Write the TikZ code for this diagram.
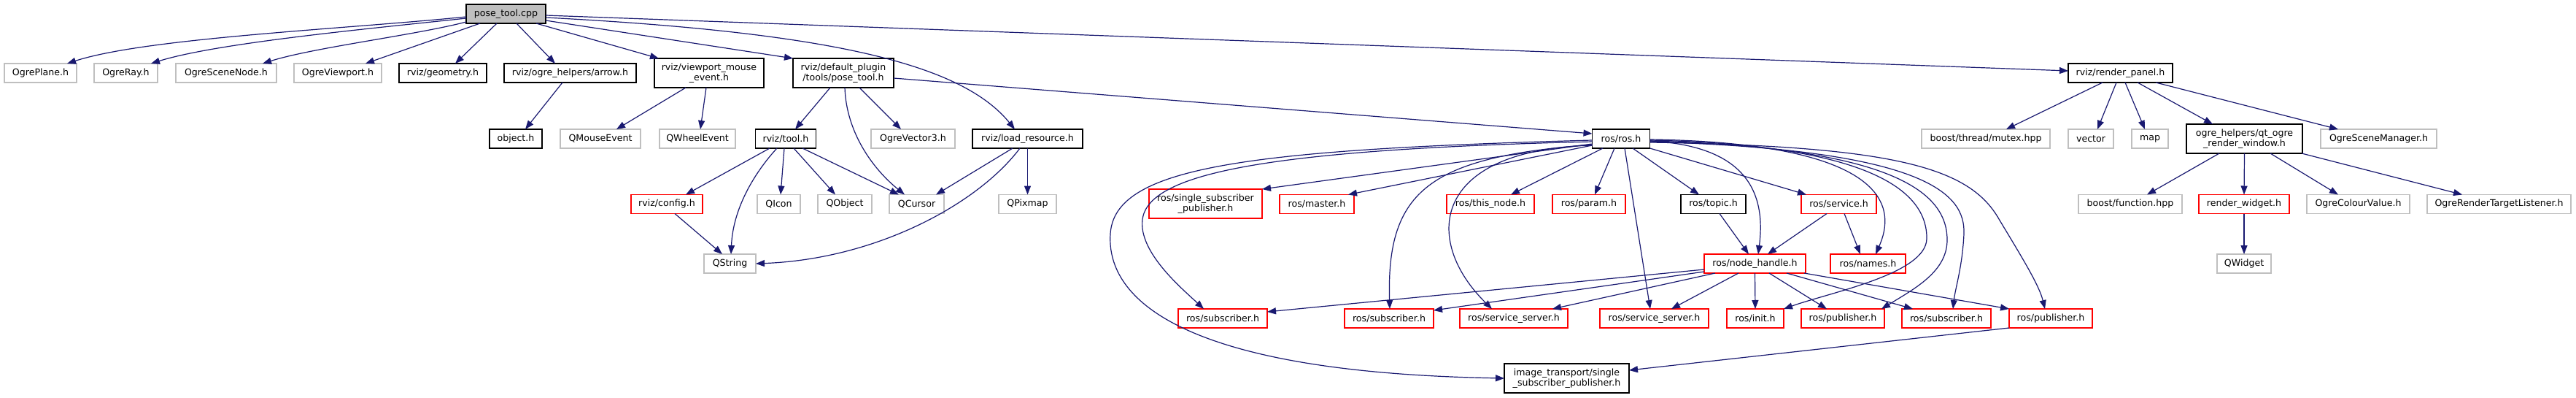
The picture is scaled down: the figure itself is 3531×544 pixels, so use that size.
\documentclass[tikz,border=0pt]{standalone}
\usepackage{fontspec}
\setmainfont{DejaVu Sans}
\usetikzlibrary{arrows.meta}
\definecolor{edgecol}{HTML}{191970}
\definecolor{grayb}{HTML}{BFBFBF}
\definecolor{redb}{HTML}{FF0000}
\definecolor{mainfill}{HTML}{BFBFBF}
\begin{document}
\begin{tikzpicture}[x=1pt,y=-1pt,
  nb/.style={draw, rectangle, inner sep=0pt, outer sep=0pt, minimum height=26pt,
    line width=1.3pt, font=\fontsize{12.6}{14}\selectfont, align=center, fill=white},
  gb/.style={nb, draw=grayb},
  bb/.style={nb, draw=black},
  rb/.style={nb, draw=redb},
  tl/.style={minimum height=40pt},
  edge/.style={draw=edgecol, line width=1.2pt, -{Triangle[length=12pt,width=9pt]}}]
\useasboundingbox (0,0) rectangle (3531,544);

% nodes
\node[bb, fill=mainfill, minimum width=109pt] (pc) at (693.5,19) {pose\_tool.cpp};

\node[gb, minimum width=99pt] (n1) at (55.5,100) {OgrePlane.h};
\node[gb, minimum width=87pt] (n2) at (172.5,100) {OgreRay.h};
\node[gb, minimum width=138pt] (n3) at (310,100) {OgreSceneNode.h};
\node[gb, minimum width=120pt] (n4) at (463,100) {OgreViewport.h};
\node[bb, minimum width=120pt] (geo) at (607,100) {rviz/geometry.h};
\node[bb, minimum width=181pt] (ndarrow) at (781.5,100) {rviz/ogre\_helpers/arrow.h};
\node[bb, tl, minimum width=150pt] (vme) at (972,100) {rviz/viewport\_mouse\\\_event.h};
\node[bb, tl, minimum width=138pt] (pth) at (1156,100) {rviz/default\_plugin\\/tools/pose\_tool.h};
\node[bb, minimum width=143pt] (rp) at (2906.5,100) {rviz/render\_panel.h};

\node[bb, minimum width=72pt] (obj) at (707,190) {object.h};
\node[gb, minimum width=110pt] (qme) at (823,190) {QMouseEvent};
\node[gb, minimum width=104pt] (qwe) at (956,190) {QWheelEvent};
\node[bb, minimum width=83pt] (tool) at (1077,190) {rviz/tool.h};
\node[gb, minimum width=115pt] (ov3) at (1251.5,190) {OgreVector3.h};
\node[bb, minimum width=151pt] (lr) at (1408.5,190) {rviz/load\_resource.h};
\node[bb, minimum width=79pt] (ros) at (2222,190) {ros/ros.h};
\node[gb, minimum width=176pt] (mutex) at (2722,190) {boost/thread/mutex.hpp};
\node[gb, minimum width=62pt] (vec) at (2866,190) {vector};
\node[gb, minimum width=50pt] (map) at (2947,190) {map};
\node[bb, tl, minimum width=159pt] (qow) at (3076.5,190) {ogre\_helpers/qt\_ogre\\\_render\_window.h};
\node[gb, minimum width=159pt] (osm) at (3260.5,190) {OgreSceneManager.h};

\node[rb, minimum width=98pt] (cfg) at (914,279.5) {rviz/config.h};
\node[gb, minimum width=59pt] (qicon) at (1067.5,279.5) {QIcon};
\node[gb, minimum width=74pt] (qobj) at (1158,279.5) {QObject};
\node[gb, minimum width=75pt] (qcur) at (1256.5,279.5) {QCursor};
\node[gb, minimum width=79pt] (qpix) at (1408.5,279.5) {QPixmap};
\node[rb, tl, minimum width=155pt] (ssp) at (1652.5,279) {ros/single\_subscriber\\\_publisher.h};
\node[rb, minimum width=102pt] (master) at (1805,279.5) {ros/master.h};
\node[rb, minimum width=120pt] (thisn) at (2043,279.5) {ros/this\_node.h};
\node[rb, minimum width=100pt] (param) at (2178,279.5) {ros/param.h};
\node[bb, minimum width=89pt] (topic) at (2348.5,279.5) {ros/topic.h};
\node[rb, minimum width=103pt] (service) at (2520.5,279.5) {ros/service.h};
\node[gb, minimum width=142pt] (bfun) at (2920,279.5) {boost/function.hpp};
\node[rb, minimum width=124pt] (rw) at (3076,279.5) {render\_widget.h};
\node[gb, minimum width=141pt] (ocv) at (3232.5,279.5) {OgreColourValue.h};
\node[gb, minimum width=197pt] (ortl) at (3425.5,279.5) {OgreRenderTargetListener.h};

\node[gb, minimum width=71pt] (qstr) at (1000.5,361) {QString};
\node[rb, minimum width=139pt] (nh) at (2405.5,361) {ros/node\_handle.h};
\node[rb, minimum width=103pt] (names) at (2560.5,361) {ros/names.h};
\node[gb, minimum width=74pt] (qw) at (3076,361) {QWidget};

\node[rb, minimum width=122pt] (sub1) at (1676,436) {ros/subscriber.h};
\node[rb, minimum width=122pt] (sub2) at (1904,436) {ros/subscriber.h};
\node[rb, minimum width=148pt] (ss1) at (2075,436) {ros/service\_server.h};
\node[rb, minimum width=149pt] (ss2) at (2267.5,436) {ros/service\_server.h};
\node[rb, minimum width=78pt] (init) at (2406,436) {ros/init.h};
\node[rb, minimum width=114pt] (pub1) at (2526,436) {ros/publisher.h};
\node[rb, minimum width=122pt] (sub3) at (2668,436) {ros/subscriber.h};
\node[rb, minimum width=114pt] (pub2) at (2811,436) {ros/publisher.h};

\node[bb, tl, minimum width=171pt] (it) at (2147.5,518) {image\_transport/single\\\_subscriber\_publisher.h};

% edges from pose_tool.cpp
\draw[edge] ([yshift=-4pt]pc.west) .. controls (470,40) and (200,52) .. ([xshift=36.5pt]n1.north);
\draw[edge] ([yshift=-6pt]pc.west) .. controls (520,38) and (300,58) .. ([xshift=34.5pt]n2.north);
\draw[edge] ([yshift=-11pt]pc.west) .. controls (570,48) and (430,65) .. ([xshift=50pt]n3.north);
\draw[edge] ([xshift=-35.5pt]pc.south) -- ([xshift=38pt]n4.north);
\draw[edge] ([xshift=-12.5pt]pc.south) -- ([xshift=17pt]geo.north);
\draw[edge] ([xshift=14.5pt]pc.south) -- ([xshift=-20.5pt]ndarrow.north);
\draw[edge] ([xshift=41.5pt]pc.south) -- ([xshift=-69pt]vme.north);
\draw[edge] ([yshift=-9pt]pc.east) -- (pth.north west);
\draw[edge] ([yshift=-5pt]pc.east) .. controls (1150,45) and (1320,90) .. ([xshift=-17.5pt]lr.north);
\draw[edge] ([yshift=-2pt]pc.east) -- ([yshift=3pt]rp.west);

% second level
\draw[edge] ([xshift=-10.5pt]ndarrow.south) -- ([xshift=13pt]obj.north);
\draw[edge] ([xshift=-32pt]vme.south) -- ([xshift=22pt]qme.north);
\draw[edge] ([xshift=-4pt]vme.south) -- ([xshift=4pt]qwe.north);
\draw[edge] ([xshift=-18pt]pth.south) -- ([xshift=13pt]tool.north);
\draw[edge] ([xshift=2pt]pth.south) .. controls (1160,180) and (1195,230) .. ([xshift=-16.5pt]qcur.north);
\draw[edge] ([xshift=22pt]pth.south) -- ([xshift=-16.5pt]ov3.north);
\draw[edge] ([yshift=-7pt]pth.east) -- ([yshift=7pt]ros.west);

% rviz/tool.h
\draw[edge] ([xshift=-22pt]tool.south) -- ([xshift=26pt]cfg.north);
\draw[edge] ([xshift=-12pt]tool.south) .. controls (1040,230) and (1005,280) .. ([xshift=1.5pt]qstr.north);
\draw[edge] ([xshift=-2pt]tool.south) -- ([xshift=2.5pt]qicon.north);
\draw[edge] ([xshift=11pt]tool.south) -- ([xshift=-13pt]qobj.north);
\draw[edge] ([xshift=23pt]tool.south) -- ([xshift=-24.5pt]qcur.north);
\draw[edge] ([xshift=11pt]cfg.south) -- ([xshift=-10.5pt]qstr.north);

% load_resource
\draw[edge] ([xshift=-20.5pt]lr.south) -- ([xshift=26.5pt]qcur.north);
\draw[edge] ([xshift=-10.5pt]lr.south) .. controls (1340,280) and (1200,355) .. (qstr.east);
\draw[edge] (lr.south) -- (qpix.north);

% ros/ros.h
\draw[edge] ([yshift=-7pt]ros.west) -- (ssp.north east);
\draw[edge] ([yshift=-9pt]ros.west) -- ([xshift=43pt]master.north);
\draw[edge] ([xshift=-25pt]ros.south) -- ([xshift=28pt]thisn.north);
\draw[edge] ([xshift=-9pt]ros.south) -- ([xshift=8pt]param.north);
\draw[edge] ([xshift=16pt]ros.south) -- ([xshift=-19.5pt]topic.north);
\draw[edge] (ros.south east) -- ([xshift=-44.5pt]service.north);
\draw[edge] ([yshift=-3pt]ros.east) .. controls (2400,200) and (2420,270) .. ([xshift=4.5pt]nh.north);
\draw[edge] ([yshift=-2pt]ros.west) .. controls (1700,205) and (1528,230) .. (1522,320) .. controls (1516,410) and (1620,510) .. (it.west);
\draw[edge] ([yshift=-4pt]ros.west) .. controls (1720,205) and (1575,240) .. (1566,300) .. controls (1560,345) and (1620,395) .. ([xshift=-26pt]sub1.north);
\draw[edge] ([yshift=-8pt]ros.west) .. controls (1960,215) and (1900,260) .. ([xshift=1pt]sub2.north);
\draw[edge] ([yshift=-9pt]ros.west) .. controls (1960,205) and (1950,330) .. ([xshift=-30pt]ss1.north);
\draw[edge] ([xshift=5pt]ros.south) -- ([xshift=-5.5pt]ss2.north);
\draw[edge] ([yshift=-1pt]ros.east) .. controls (2540,195) and (2610,260) .. ([xshift=10.5pt]names.north);
\draw[edge] ([yshift=-2pt]ros.east) .. controls (2560,198) and (2642,260) .. (2641,327) .. controls (2640,375) and (2510,400) .. (init.north east);
\draw[edge] ([yshift=-3pt]ros.east) .. controls (2600,202) and (2670,265) .. (2669,330) .. controls (2668,372) and (2625,395) .. ([xshift=53pt]pub1.north);
\draw[edge] ([yshift=-4pt]ros.east) .. controls (2640,205) and (2694,265) .. (2692,320) .. controls (2690,365) and (2680,395) .. ([xshift=9pt]sub3.north);
\draw[edge] ([yshift=-5pt]ros.east) .. controls (2600,200) and (2700,230) .. (2740,300) .. controls (2770,350) and (2795,390) .. ([xshift=-8pt]pub2.north);

% topic / service
\draw[edge] ([xshift=8.5pt]topic.south) -- ([xshift=-8.5pt]nh.north);
\draw[edge] ([xshift=-16.5pt]service.south) -- ([xshift=17.5pt]nh.north);
\draw[edge] ([xshift=7.5pt]service.south) -- ([xshift=-10.5pt]names.north);

% node_handle
\draw[edge] ([yshift=-8pt]nh.west) -- ([yshift=9pt]sub1.east);
\draw[edge] ([yshift=-11pt]nh.west) -- ([yshift=-2pt]sub2.north east);
\draw[edge] ([xshift=-54.5pt]nh.south) -- ([xshift=53pt]ss1.north);
\draw[edge] ([xshift=-22.5pt]nh.south) -- ([xshift=23.5pt]ss2.north);
\draw[edge] (nh.south) -- (init.north);
\draw[edge] ([xshift=19.5pt]nh.south) -- ([xshift=-22pt]pub1.north);
\draw[edge] ([xshift=43.5pt]nh.south) -- ([xshift=-46pt]sub3.north);
\draw[edge] ([xshift=67.5pt]nh.south) -- (pub2.north west);
\draw[edge] (pub2.south west) -- ([yshift=11pt]it.east);

% render_panel
\draw[edge] ([xshift=-24.5pt]rp.south) -- ([xshift=28pt]mutex.north);
\draw[edge] ([xshift=-5.5pt]rp.south) -- ([xshift=9pt]vec.north);
\draw[edge] ([xshift=6.5pt]rp.south) -- ([xshift=-7pt]map.north);
\draw[edge] ([xshift=23.5pt]rp.south) -- ([xshift=-43.5pt]qow.north);
\draw[edge] ([xshift=48.5pt]rp.south) -- ([xshift=-55.5pt]osm.north);
\draw[edge] ([xshift=-34.5pt]qow.south) -- ([xshift=23pt]bfun.north);
\draw[edge] (qow.south) -- (rw.north);
\draw[edge] ([xshift=35.5pt]qow.south) -- ([xshift=-27.5pt]ocv.north);
\draw[edge] ([xshift=78.5pt]qow.south) -- ([xshift=-50.5pt]ortl.north);
\draw[edge] (rw.south) -- (qw.north);
\end{tikzpicture}
\end{document}
